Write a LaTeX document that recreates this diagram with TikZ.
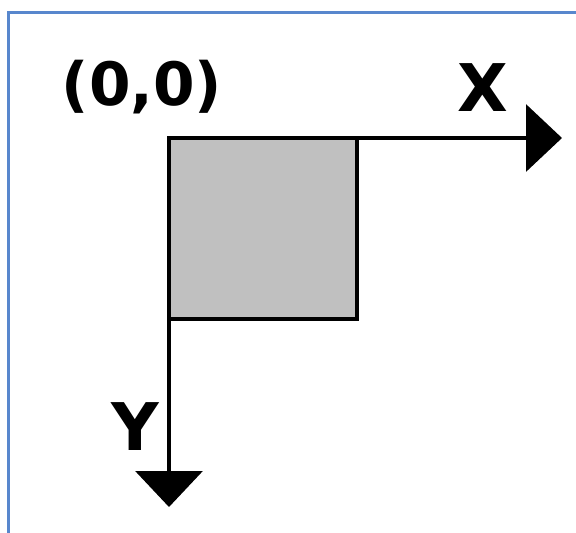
\documentclass[tikz,border=0pt]{standalone}
\usepackage{fontspec}
\setmainfont{DejaVu Sans}
\usetikzlibrary{arrows.meta}
\definecolor{frameblue}{RGB}{88,135,205}
\definecolor{boxgray}{RGB}{192,192,192}
\tikzset{
  axisline/.style={line width=0.07cm, -{Triangle[length=0.72cm, width=1.34cm]}},
  lbl/.style={font=\bfseries\fontsize{34}{38}\selectfont, inner sep=0pt}
}

\begin{document}
\begin{tikzpicture}
			%%%%% START %%%%%
			\useasboundingbox (-3.38, 2.76) rectangle (8.14, -7.88);
			
			% frame, only top and left edge fall inside the page
			\draw[line width=0.06cm, color=frameblue] (-3.21, -8.2) -- (-3.21, 2.51) -- (8.4, 2.51);
			
			\coordinate (o) at (0, 0);
			\coordinate (xend) at (7.86, 0);
			\coordinate (yend) at (0, -7.38);
			
			% grey square at the origin
			\draw[line width=0.08cm, fill=boxgray] (o) rectangle (3.76, -3.62);
			
			\draw[axisline] (o) -- (xend);
			\draw[axisline] (o) -- (yend);
			
			\node[lbl] (olabel) at (-0.54, 1.02) {(0,0)};
			\node[lbl, scale=1.1] (xlabel) at (6.28, 1.0) {X};
			\node[lbl, scale=1.1] (ylabel) at (-0.68, -5.78) {Y};
			%%%%% END %%%%%
\end{tikzpicture}
\end{document}
